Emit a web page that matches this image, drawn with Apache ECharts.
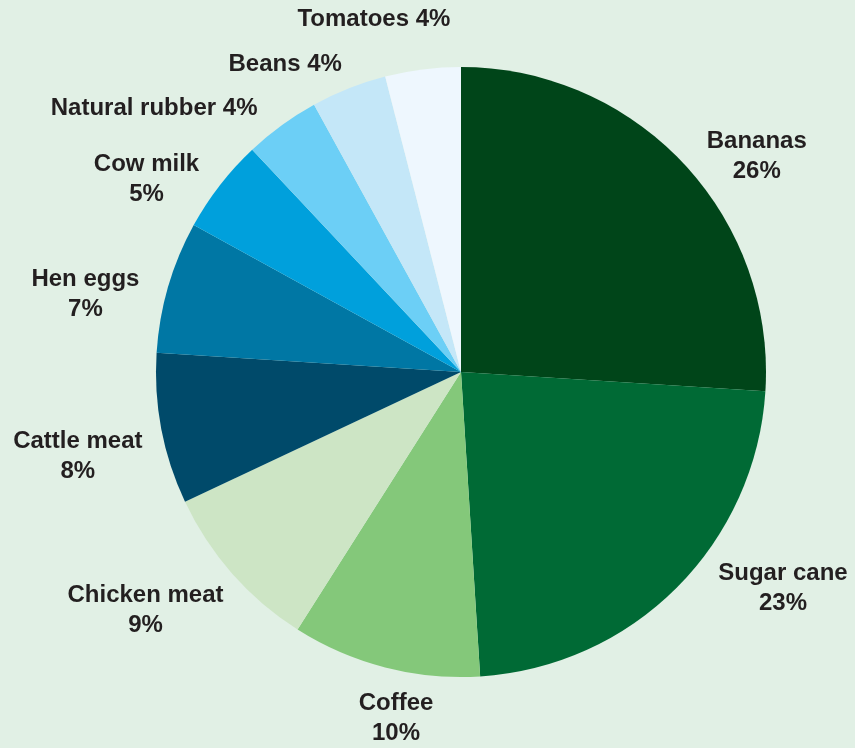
<!DOCTYPE html>
<html>
<head>
<meta charset="utf-8">
<style>
  html, body { margin: 0; padding: 0; background: #e1f0e5; }
  #chart { width: 855px; height: 748px; }
</style>
<script src="https://cdn.jsdelivr.net/npm/echarts@6/dist/echarts.min.js"></script>
</head>
<body>
<div id="chart"></div>
<script>
// Share of each commodity (%), clockwise from 12 o'clock
const commodities = ['Bananas', 'Sugar cane', 'Coffee', 'Chicken meat', 'Cattle meat',
                     'Hen eggs', 'Cow milk', 'Natural rubber', 'Beans', 'Tomatoes'];
const shares = [26, 23, 10, 9, 8, 7, 5, 4, 4, 4];

// Slice fills
const sliceColors = ['#004519', '#006a35', '#84c87a', '#cde5c5', '#004a6a',
                     '#0077a4', '#00a0dc', '#6ccff6', '#c4e7f8', '#eef7fe'];

// Label layout: separator between name and value, and where each label sits
// (angle clockwise from 12 o'clock in degrees, distance from pie centre in px)
const labelSeparators = ['\n', '\n', '\n', '\n', '\n', '\n', '\n', ' ', ' ', ' '];
const labelSpots = [[53.7, 367], [123.7, 387], [190.7, 350], [233.2, 394], [257.8, 392],
                    [282, 384], [301.8, 370], [310.9, 406], [330.4, 356], [346.2, 365]];

const pieCenter = [461, 372];
const pieRadius = 305;

const chart = echarts.init(document.getElementById('chart'), null, { renderer: 'canvas' });

chart.setOption({
  backgroundColor: '#e1f0e5',
  animation: false,
  series: [{
    type: 'pie',
    center: pieCenter,
    radius: pieRadius,
    startAngle: 90,
    clockwise: true,
    avoidLabelOverlap: false,
    emphasis: { disabled: true },
    itemStyle: { borderWidth: 0 },
    data: commodities.map((name, i) => ({
      name: name,
      value: shares[i],
      itemStyle: { color: sliceColors[i] }
    })),
    label: {
      show: true,
      position: 'outside',
      formatter: p => p.name + labelSeparators[p.dataIndex] + p.value + '%',
      fontFamily: '"Liberation Sans", Arial, sans-serif',
      fontWeight: 'bold',
      fontSize: 24,
      lineHeight: 30,
      color: '#231f20',
      align: 'center'
    },
    labelLine: { show: false },
    labelLayout: function (params) {
      const spot = labelSpots[params.dataIndex];
      const a = spot[0] * Math.PI / 180;
      return {
        x: pieCenter[0] + spot[1] * Math.sin(a),
        y: pieCenter[1] - spot[1] * Math.cos(a) + 2,
        align: 'center',
        verticalAlign: 'middle'
      };
    }
  }]
});
</script>
</body>
</html>
